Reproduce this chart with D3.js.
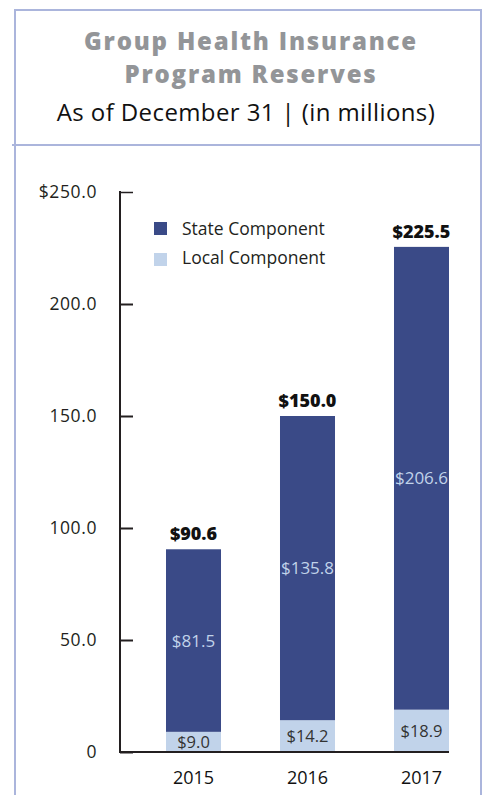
<!DOCTYPE html>
<html>
<head>
<meta charset="utf-8">
<script src="https://cdn.jsdelivr.net/npm/d3@7"></script>
<style>
  body { margin: 0; background: #fff; }
  svg { display: block; }
  text { font-family: "Open Sans", "Lato", sans-serif; }
</style>
</head>
<body>
<svg width="483" height="795"></svg>
<script>
const years = ["2015", "2016", "2017"]
const localValues = [9.0, 14.2, 18.9]
const stateValues = [81.5, 135.8, 206.6]
const totals = [90.6, 150.0, 225.5]
const tickValues = [0, 50, 100, 150, 200, 250]
const seriesNames = ["State Component", "Local Component"]

const colors = {state: "#3a4a87", local: "#c1d3ea", border: "#abb5dc"}

let svg = d3.select("svg")

// panel frame
svg.append("path")
    .attr("d", "M15,800 L15,10 L481,10 L481,800")
    .attr("fill", "none")
    .attr("stroke", colors.border)
    .attr("stroke-width", 2)
svg.append("line")
    .attr("x1", 12).attr("x2", 481)
    .attr("y1", 145).attr("y2", 145)
    .attr("stroke", colors.border)
    .attr("stroke-width", 2)

// titles
svg.append("text")
    .attr("x", 251).attr("y", 50)
    .attr("text-anchor", "middle")
    .style("font-size", "24px")
    .style("font-weight", "800")
    .style("letter-spacing", "1.8px")
    .attr("fill", "#939598")
    .text("Group Health Insurance")
svg.append("text")
    .attr("x", 251).attr("y", 83)
    .attr("text-anchor", "middle")
    .style("font-size", "24px")
    .style("font-weight", "800")
    .style("letter-spacing", "1.8px")
    .attr("fill", "#939598")
    .text("Program Reserves")
svg.append("text")
    .attr("x", 246).attr("y", 121)
    .attr("text-anchor", "middle")
    .style("font-size", "24px")
    .style("letter-spacing", "0.4px")
    .attr("fill", "#111")
    .text("As of December 31 | (in millions)")

let y = d3.scaleLinear()
    .domain([0, 250])
    .range([752, 192])

let x = d3.scaleBand()
    .domain(years)
    .range([166, 449])
    .paddingInner(0.5175)
    .paddingOuter(0)

let data = years.map((yr, i) => ({
    year: yr, local: localValues[i], state: stateValues[i], total: totals[i]
}))

// bars: local at bottom, state on top
svg.append("g").selectAll("rect.local").data(data)
    .enter().append("rect")
    .attr("x", d => x(d.year))
    .attr("width", x.bandwidth())
    .attr("y", d => y(d.local))
    .attr("height", d => y(0) - y(d.local))
    .attr("fill", colors.local)

svg.append("g").selectAll("rect.state").data(data)
    .enter().append("rect")
    .attr("x", d => x(d.year))
    .attr("width", x.bandwidth())
    .attr("y", d => y(d.local + d.state))
    .attr("height", d => y(d.local) - y(d.local + d.state))
    .attr("fill", colors.state)

// y axis (ticks point inward)
let yAxis = d3.axisRight(y)
    .tickValues(tickValues)
    .tickSize(13)
    .tickFormat("")
let gy = svg.append("g")
    .attr("transform", "translate(120,0)")
    .call(yAxis)
gy.select(".domain").remove()
gy.selectAll(".tick line").attr("stroke", "#231f20").attr("stroke-width", 2)
gy.select(".tick:last-of-type line").attr("stroke-width", 1.5)

svg.append("line")
    .attr("x1", 120).attr("x2", 120)
    .attr("y1", y(250) - 1).attr("y2", y(0) + 1)
    .attr("stroke", "#231f20").attr("stroke-width", 2)

svg.append("g").selectAll("text").data(tickValues)
    .enter().append("text")
    .attr("x", 97)
    .attr("y", d => y(d) + 6)
    .attr("text-anchor", "end")
    .style("font-size", "17.5px")
    .style("letter-spacing", "0.6px")
    .attr("fill", "#231f20")
    .text(d => d === 0 ? "0" : (d === 250 ? "$" : "") + d.toFixed(1))

// x axis
svg.append("line")
    .attr("x1", 119).attr("x2", 449)
    .attr("y1", y(0)).attr("y2", y(0))
    .attr("stroke", "#231f20").attr("stroke-width", 2)

svg.append("g").selectAll("text").data(years)
    .enter().append("text")
    .attr("x", d => x(d) + x.bandwidth() / 2)
    .attr("y", 784)
    .attr("text-anchor", "middle")
    .style("font-size", "18px")
    .attr("fill", "#111")
    .text(d => d)

// segment labels
svg.append("g").selectAll("text").data(data)
    .enter().append("text")
    .attr("x", d => x(d.year) + x.bandwidth() / 2)
    .attr("y", d => (y(d.local) + y(d.local + d.state)) / 2 + 6)
    .attr("text-anchor", "middle")
    .style("font-size", "17px")
    .attr("fill", "#c1d3ea")
    .text(d => "$" + d.state.toFixed(1))

svg.append("g").selectAll("text").data(data)
    .enter().append("text")
    .attr("x", d => x(d.year) + x.bandwidth() / 2)
    .attr("y", d => (y(0) + y(d.local)) / 2 + 6)
    .attr("text-anchor", "middle")
    .style("font-size", "16.5px")
    .attr("fill", "#333")
    .text(d => "$" + d.local.toFixed(1))

// totals
svg.append("g").selectAll("text").data(data)
    .enter().append("text")
    .attr("x", d => x(d.year) + x.bandwidth() / 2)
    .attr("y", d => y(d.total) - 9)
    .attr("text-anchor", "middle")
    .style("font-size", "18px")
    .style("font-weight", "800")
    .attr("fill", "#111")
    .text(d => "$" + d.total.toFixed(1))

// legend
let legendColors = [colors.state, colors.local]
svg.append("g").selectAll("rect").data(seriesNames)
    .enter().append("rect")
    .attr("x", 154)
    .attr("y", (d, i) => 222 + i * 31)
    .attr("width", 13)
    .attr("height", 13)
    .attr("fill", (d, i) => legendColors[i])
svg.append("g").selectAll("text").data(seriesNames)
    .enter().append("text")
    .attr("x", 182)
    .attr("y", (d, i) => 235 + i * 29)
    .style("font-size", "17.5px")
    .attr("fill", "#231f20")
    .text(d => d)
</script>
</body>
</html>
